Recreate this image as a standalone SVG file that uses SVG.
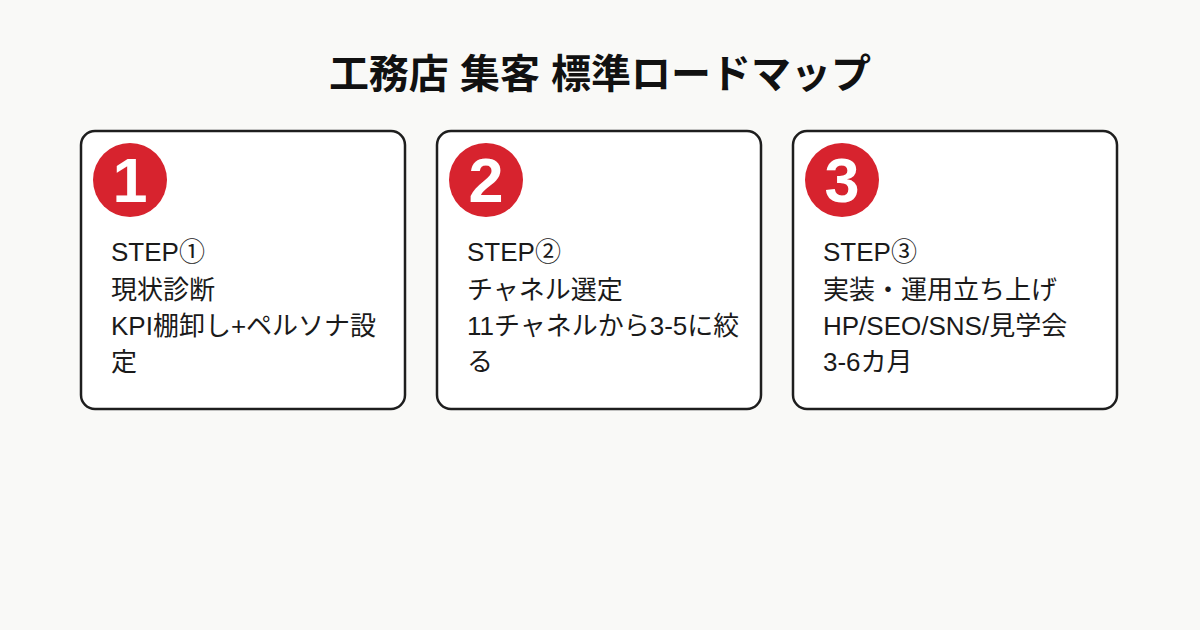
<svg xmlns="http://www.w3.org/2000/svg" width="1200" height="630" viewBox="0 0 1200 630">
<style>
.card{fill:#ffffff;stroke:#1e1e1e;stroke-width:2.5}
.badge{fill:#d7232e}
.num{font-family:"Liberation Sans","Noto Sans CJK JP",sans-serif;font-weight:700;font-size:63px;fill:#ffffff;text-anchor:middle}
.body{font-family:"Liberation Sans","Noto Sans CJK JP",sans-serif;font-size:26px;fill:#1a1a1a}
.title{font-family:"Liberation Sans","Noto Sans CJK JP",sans-serif;font-weight:700;font-size:40px;fill:#111111;text-anchor:middle}
</style>
<rect width="1200" height="630" fill="#f9f9f7"/>
<text class="title" x="600" y="88">工務店 集客 標準ロードマップ</text>
<g id="connectors"></g>
<g id="step1">
<rect class="card" x="81" y="131" width="324" height="278" rx="14"/>
<circle class="badge" cx="130" cy="180" r="37"/>
<text class="num" x="130" y="202">1</text>
<text class="body" x="111" y="261">STEP①</text>
<text class="body" x="111" y="299">現状診断</text>
<text class="body" x="111" y="335">KPI棚卸し+ペルソナ設</text>
<text class="body" x="111" y="371">定</text>
</g>
<g id="step2">
<rect class="card" x="437" y="131" width="324" height="278" rx="14"/>
<circle class="badge" cx="486" cy="180" r="37"/>
<text class="num" x="486" y="202">2</text>
<text class="body" x="467" y="261">STEP②</text>
<text class="body" x="467" y="299">チャネル選定</text>
<text class="body" x="467" y="335">11チャネルから3-5に絞</text>
<text class="body" x="467" y="371">る</text>
</g>
<g id="step3">
<rect class="card" x="793" y="131" width="324" height="278" rx="14"/>
<circle class="badge" cx="842" cy="180" r="37"/>
<text class="num" x="842" y="202">3</text>
<text class="body" x="823" y="261">STEP③</text>
<text class="body" x="823" y="299">実装・運用立ち上げ</text>
<text class="body" x="823" y="335">HP/SEO/SNS/見学会</text>
<text class="body" x="823" y="371">3-6カ月</text>
</g>
</svg>
